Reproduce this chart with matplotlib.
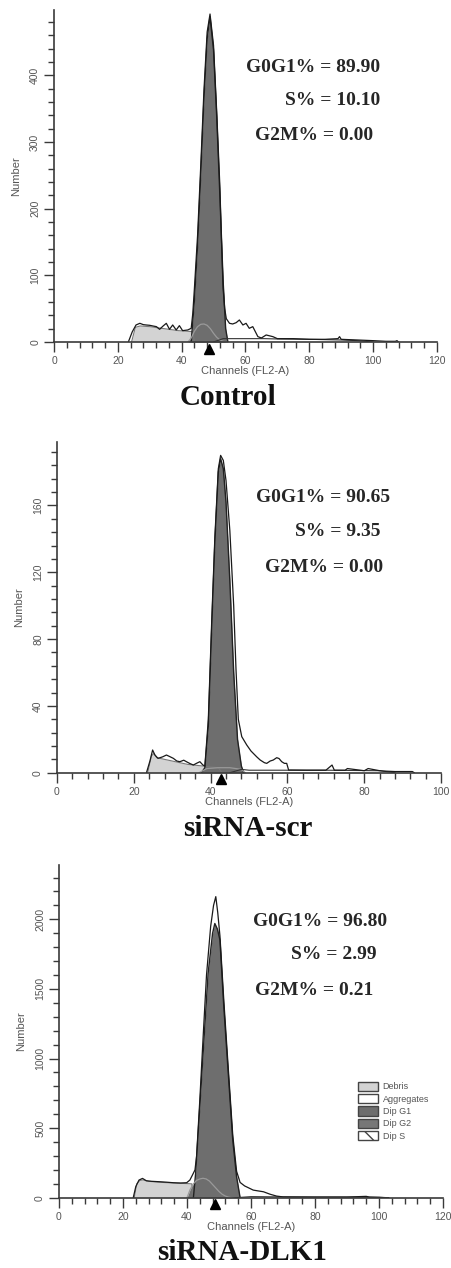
import numpy as np
import matplotlib
matplotlib.use('Agg')
import matplotlib.pyplot as plt
from matplotlib.patches import Patch
from matplotlib.ticker import MultipleLocator
import matplotlib.transforms as mtransforms

plt.rcParams['font.family'] = ['Liberation Sans', 'DejaVu Sans']

# ---------------- data ----------------
# Control
ctrl_raw_ch = [23.3, 24.5, 25.7, 26.9, 28, 28.9, 30, 31, 32.1, 33.1, 34.2, 35.2, 36.2, 37.2,
               38.3, 39.3, 40.3, 41.9, 43, 43.5, 44, 45, 46, 47, 48, 48.9, 50, 51, 52, 52.5,
               53, 53.5, 54, 55, 56, 57.1, 58.1, 59.2, 60.2, 61.2, 62.3, 63.9, 65, 66.5, 68.6,
               70, 75, 80, 85, 89, 89.5, 90, 95, 100, 104, 107, 107.5, 108]
ctrl_raw = [0, 15, 25.5, 28, 26, 25.5, 25, 24, 23, 19, 24, 28, 19, 25.5, 18, 24.5, 17, 18, 20.5,
            43, 80, 160, 265, 378, 465, 492, 445, 345, 232, 150, 80, 50, 35, 28, 27, 29, 33,
            25.5, 28, 20.5, 23, 8, 6, 10.5, 8, 5, 5, 4, 4, 5, 8, 4, 3, 2, 1, 1, 2, 0]
ctrl_g1_ch = [43, 44, 45, 46, 47, 48, 48.9, 50, 51, 52, 53, 53.8, 54.5]
ctrl_g1 = [0, 62, 145, 252, 365, 455, 488, 438, 338, 218, 92, 20, 0]
ctrl_debris_ch = [24.3, 25.5, 27, 30, 33, 36, 39, 42, 43.5, 44]
ctrl_debris = [0, 22, 24, 23, 21, 19, 17, 16, 15.5, 0]
ctrl_hump_ch = [42, 43, 44, 45, 46, 47, 48, 49, 50, 51, 52, 53, 54]
ctrl_hump = [0, 6, 16, 23, 26.5, 27, 25, 20, 13, 7, 3, 1, 0]
ctrl_tail_ch = [50, 53, 60, 66, 70, 80, 90, 95, 100]
ctrl_tail = [0, 5, 5, 5, 4.5, 4, 3, 2, 0]
ctrl_mean = 48.6
ctrl_stats = ['G0G1% = 89.90', 'S% = 10.10', 'G2M% = 0.00']

# siRNA-scr
scr_raw_ch = [23.3, 24.2, 24.9, 25.5, 26.3, 27.5, 28.5, 29.5, 30.3, 31.2, 32, 33, 33.7, 34.6,
              35.5, 36.3, 37.2, 38, 38.5, 39.4, 40.3, 41.1, 42, 42.6, 43.3, 44, 45, 46, 46.6,
              47.2, 48.1, 49.4, 50.5, 51.1, 52, 52.9, 54, 54.6, 55.5, 56.3, 57.2, 57.8,
              58.5, 59.2, 59.8, 60.3, 61, 65, 70, 71.6, 72.2, 75, 75.6, 80, 81, 84, 85, 88,
              92.5, 93]
scr_raw = [0, 7, 13.6, 10.6, 8.6, 9.5, 10.6, 9.5, 8.6, 7, 6.6, 7.5, 6.6, 5.5, 4.6, 5.6, 6.6,
           4.6, 4, 32, 92, 141, 182, 190, 187, 175, 145, 100, 62, 32, 21.6, 16.6, 13, 11.6,
           9.5, 7.6, 6, 5.6, 7, 7.6, 9, 8.5, 6.6, 5.6, 5.6, 1.6, 1.6, 1.5, 1.5, 4.6, 1.5, 1.5,
           2.5, 1.2, 2.5, 1.2, 1, 0.7, 0.7, 0]
scr_g1_ch = [37.6, 38.5, 39.4, 40.3, 41.1, 42, 42.6, 43.3, 44, 45, 46, 47, 48, 48.6]
scr_g1 = [0, 3, 28, 88, 138, 180, 188, 182, 162, 115, 60, 20, 4, 0]
scr_debris_ch = [23.6, 24.6, 25.2, 26, 28, 30, 32, 34, 36, 38, 40, 42, 43]
scr_debris = [0, 10, 11.5, 9, 8, 7, 6, 5, 4.5, 4, 3.5, 3, 0]
scr_hump_ch = [37, 39, 42, 45, 48, 49]
scr_hump = [0, 2.5, 3, 3, 2, 0]
scr_tail_ch = [45, 48, 50, 60, 70, 84, 88]
scr_tail = [0, 2, 1.5, 1.5, 1.5, 1.2, 0]
scr_mean = 42.8
scr_stats = ['G0G1% = 90.65', 'S% = 9.35', 'G2M% = 0.00']

# siRNA-DLK1
dlk_raw_ch = [23.2, 24, 25, 26.1, 27.3, 29, 31.5, 33.5, 35.7, 38, 39.9, 40.9, 41.7, 42.5, 43,
              44, 45.1, 46.1, 47.4, 48.3, 49, 49.6, 50.3, 51.5, 52.9, 54.3, 55.5, 56.6, 58,
              60.7, 62, 63.9, 66, 68, 70, 80, 90, 96, 97, 100, 103]
dlk_raw = [0, 80, 127, 139, 122, 118, 115, 112, 108, 106, 108, 127, 163, 200, 300, 700, 1180,
           1600, 1950, 2100, 2163, 2050, 1880, 1420, 930, 450, 190, 110, 85, 55, 50, 43, 25,
           12, 6, 5, 5, 10, 5, 3, 0]
dlk_g1_ch = [42, 42.7, 44, 45.3, 46.6, 48, 48.7, 49.5, 50.3, 51.5, 52.9, 54.3, 55.5, 56.6]
dlk_g1 = [0, 175, 654, 1133, 1612, 1900, 1970, 1930, 1851, 1372, 893, 414, 150, 0]
dlk_debris_ch = [23.5, 24.3, 25.3, 26.3, 28, 31, 34, 37, 40, 41.5, 42]
dlk_debris = [0, 100, 125, 128, 118, 112, 108, 104, 102, 100, 0]
dlk_hump_ch = [40, 41, 42, 43, 44, 45, 46, 47, 48, 49, 50, 51, 52, 53, 54]
dlk_hump = [0, 60, 100, 125, 135, 140, 135, 120, 95, 70, 45, 25, 12, 4, 0]
dlk_tail_ch = [55, 60, 70, 80, 90, 100, 103]
dlk_tail = [0, 8, 6, 5, 5, 3, 0]
dlk_mean = 48.8
dlk_stats = ['G0G1% = 96.80', 'S% = 2.99', 'G2M% = 0.21']

legend_labels = ['Debris', 'Aggregates', 'Dip G1', 'Dip G2', 'Dip S']

LIGHT = '#d3d3d3'
DARK = '#6e6e6e'
AXC = '#3a3a3a'
TXT = '#555555'


def draw_panel(ax, raw_ch, raw, g1_ch, g1, deb_ch, deb, hump_ch, hump, tail_ch, tail,
               mean, xmax, ymax, ymajor, yminor, stats, stat_pos):
    """Draw one ModFit-style DNA histogram on ax."""
    # component fills
    ax.fill_between(deb_ch, deb, color=LIGHT, lw=0)
    ax.plot(deb_ch, deb, color='#777777', lw=0.8)
    ax.fill_between(hump_ch, hump, color=DARK, lw=0)
    ax.fill_between(g1_ch, g1, color=DARK, lw=0)
    ax.plot(g1_ch, g1, color='#222222', lw=1.0)
    ax.plot(hump_ch, hump, color='#9a9a9a', lw=0.9)
    ax.plot(tail_ch, tail, color='#333333', lw=0.8)
    # raw histogram
    ax.plot(raw_ch, raw, color='#1a1a1a', lw=0.9)

    # peak mean marker under the axis
    trans = mtransforms.blended_transform_factory(ax.transData, ax.transAxes)
    ax.plot([mean], [-0.02], marker='^', color='black', ms=7, transform=trans, clip_on=False)

    ax.set_xlim(0, xmax)
    ax.set_ylim(0, ymax)
    ax.xaxis.set_major_locator(MultipleLocator(20))
    ax.xaxis.set_minor_locator(MultipleLocator(4))
    ax.yaxis.set_major_locator(MultipleLocator(ymajor))
    ax.yaxis.set_minor_locator(MultipleLocator(yminor))
    for s in ['top', 'right']:
        ax.spines[s].set_visible(False)
    for s in ['left', 'bottom']:
        ax.spines[s].set_color(AXC)
        ax.spines[s].set_linewidth(1.2)
    ax.tick_params(which='major', length=7, width=1.0, color=AXC, labelcolor=TXT,
                   labelsize=7.5, pad=3)
    ax.tick_params(which='minor', length=4, width=1.0, color=AXC)
    ax.tick_params(axis='y', labelrotation=90)
    for lbl in ax.get_yticklabels():
        lbl.set_va('center')
    ax.set_xlabel('Channels (FL2-A)', color=TXT, fontsize=8, labelpad=0)
    ax.set_ylabel('Number', color=TXT, fontsize=8)
    ax.yaxis.set_label_coords(-0.085, 0.5)

    for txt, (x, y) in zip(stats, stat_pos):
        ax.text(x, y, txt, transform=ax.transAxes, ha='right', va='center',
                family='Liberation Serif', fontweight='bold', fontsize=14, color='#262626')


fig = plt.figure(figsize=(4.52, 12.68), dpi=100)

ax1 = fig.add_axes([0.1195, 0.7303, 0.847, 0.2618])
draw_panel(ax1, ctrl_raw_ch, ctrl_raw, ctrl_g1_ch, ctrl_g1, ctrl_debris_ch, ctrl_debris,
           ctrl_hump_ch, ctrl_hump, ctrl_tail_ch, ctrl_tail, ctrl_mean, 120, 498, 100, 20,
           ctrl_stats, [(0.851, 0.828), (0.851, 0.727), (0.833, 0.622)])

ax2 = fig.add_axes([0.126, 0.3906, 0.850, 0.2608])
draw_panel(ax2, scr_raw_ch, scr_raw, scr_g1_ch, scr_g1, scr_debris_ch, scr_debris,
           scr_hump_ch, scr_hump, scr_tail_ch, scr_tail, scr_mean, 100, 198, 40, 8,
           scr_stats, [(0.867, 0.831), (0.841, 0.728), (0.849, 0.622)])

ax3 = fig.add_axes([0.1305, 0.0554, 0.8496, 0.2624])
draw_panel(ax3, dlk_raw_ch, dlk_raw, dlk_g1_ch, dlk_g1, dlk_debris_ch, dlk_debris,
           dlk_hump_ch, dlk_hump, dlk_tail_ch, dlk_tail, dlk_mean, 120, 2390, 500, 100,
           dlk_stats, [(0.854, 0.829), (0.828, 0.730), (0.818, 0.624)])

# legend only in the last panel
handles = [Patch(facecolor=LIGHT, edgecolor='#444444'),
           Patch(facecolor='white', edgecolor='#444444'),
           Patch(facecolor=DARK, edgecolor='#444444'),
           Patch(facecolor='#777777', edgecolor='#444444'),
           Patch(facecolor='white', edgecolor='#444444', hatch='\\\\')]
leg = ax3.legend(handles, legend_labels, loc='upper left', bbox_to_anchor=(0.77, 0.36),
                 frameon=False, fontsize=6.5, handlelength=2.2, handleheight=1.2,
                 labelspacing=0.3, handletextpad=0.5, borderaxespad=0)
for t in leg.get_texts():
    t.set_color(TXT)

# panel titles
fig.text(0.505, 0.6806, 'Control', ha='center', va='baseline', family='Liberation Serif',
         fontweight='bold', fontsize=21, color='#111111')
fig.text(0.549, 0.341, 'siRNA-scr', ha='center', va='baseline', family='Liberation Serif',
         fontweight='bold', fontsize=21, color='#111111')
fig.text(0.535, 0.006, 'siRNA-DLK1', ha='center', va='baseline', family='Liberation Serif',
         fontweight='bold', fontsize=21, color='#111111')

fig.savefig('out.png', dpi=100)
